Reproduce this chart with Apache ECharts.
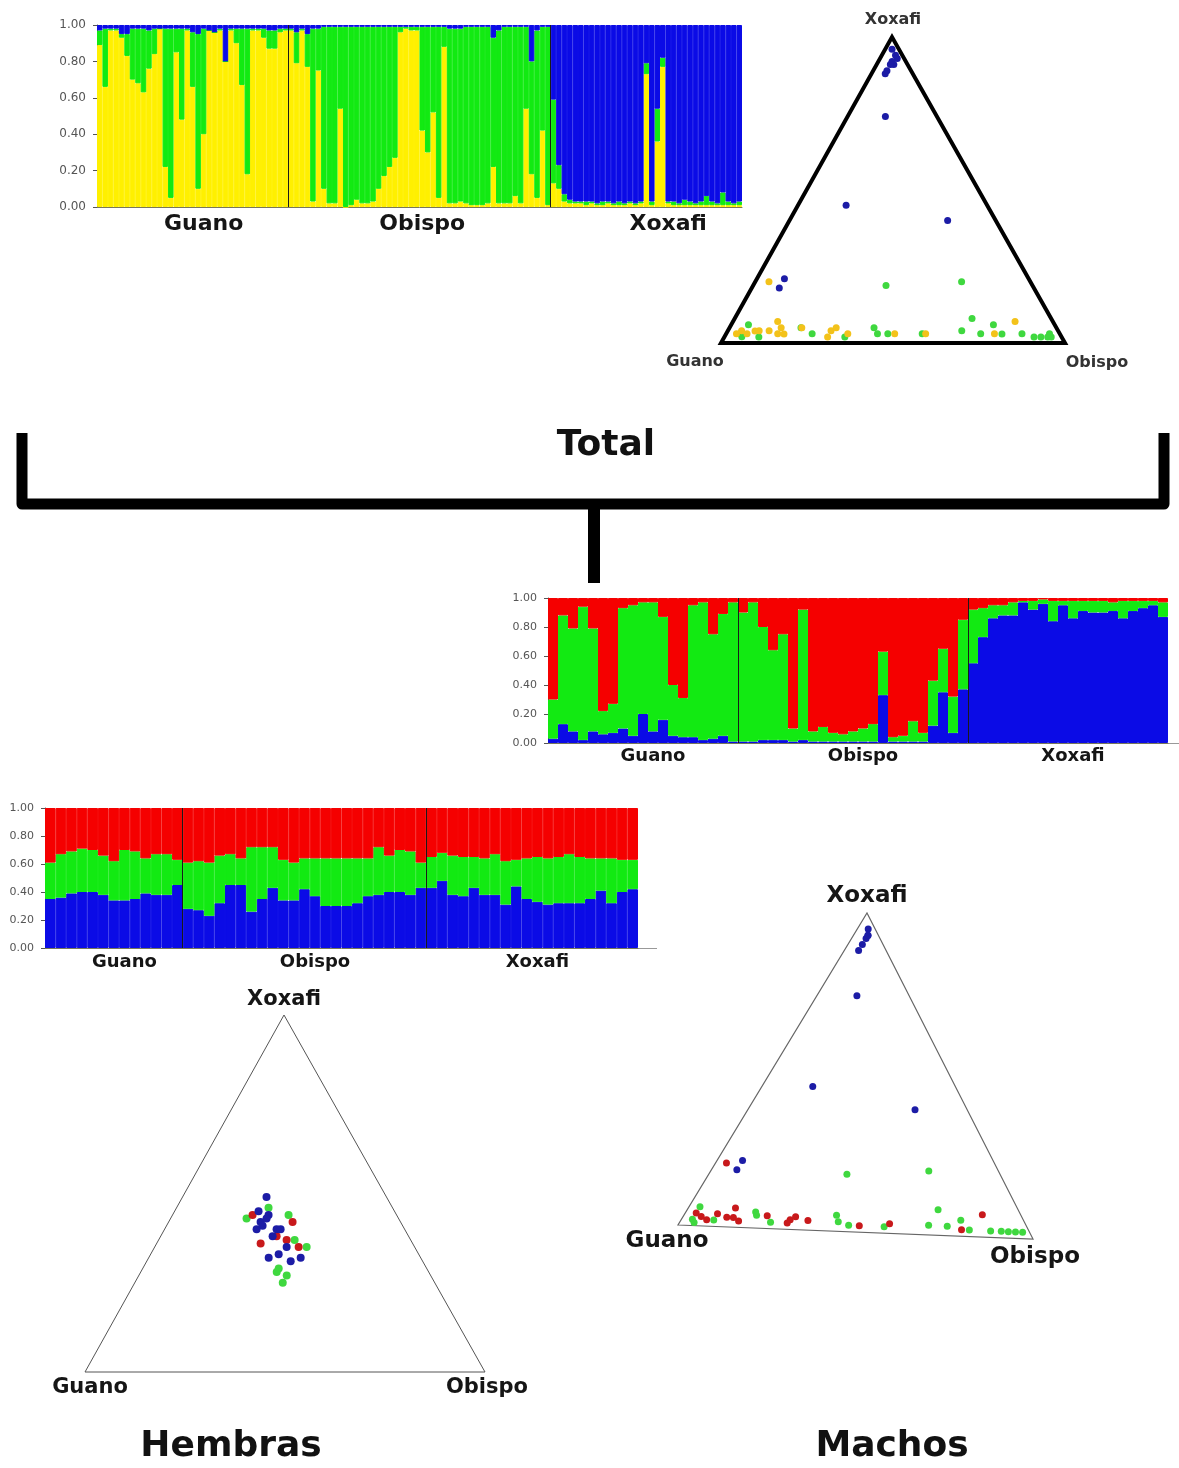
<!DOCTYPE html>
<html>
<head>
<meta charset="utf-8">
<script src="https://cdn.jsdelivr.net/npm/echarts@6/dist/echarts.min.js"></script>
<style>
  html, body { margin: 0; padding: 0; background: #fff; }
  #chart { width: 1179px; height: 1468px; }
</style>
</head>
<body>
<div id="chart"></div>
<script>
// populations, in plot order
const popNames = ['Guano', 'Obispo', 'Xoxafi'];

// ---- Total: Q-values per individual (K=3) ----
const totalCounts = [35, 48, 35];
const totalYellow = [
  .89,.66,.97,.97,.93,.83,.70,.68,.63,.76,.84,.98,.22,.05,.85,.48,.97,.66,.10,.40,.97,.96,.97,.80,.97,.90,.67,.18,.97,.97,.93,.87,.87,.96,.97,
  .97,.79,.97,.77,.03,.75,.10,.02,.02,.54,.00,.01,.04,.02,.02,.03,.10,.17,.22,.27,.96,.98,.97,.97,.42,.30,.52,.05,.88,.02,.02,.03,.02,.01,.01,.01,.02,.22,.02,.02,.02,.06,.02,.54,.18,.05,.42,.01,
  .13,.10,.03,.02,.02,.02,.01,.02,.01,.01,.02,.01,.01,.01,.02,.01,.02,.73,.01,.36,.77,.02,.01,.01,.01,.01,.01,.01,.01,.01,.01,.01,.01,.01,.01
];
const totalGreen = [
  .08,.32,.01,.01,.02,.12,.28,.30,.35,.21,.14,.00,.76,.93,.13,.50,.01,.30,.85,.58,.00,.00,.01,.00,.01,.08,.31,.80,.01,.01,.05,.10,.10,.02,.01,
  .01,.17,.01,.18,.95,.23,.89,.97,.97,.45,.99,.98,.95,.97,.97,.96,.89,.82,.77,.72,.03,.01,.02,.02,.57,.69,.47,.94,.11,.96,.96,.95,.97,.98,.98,.98,.97,.71,.95,.97,.97,.93,.97,.45,.62,.92,.57,.98,
  .46,.13,.04,.02,.01,.01,.02,.01,.01,.02,.01,.01,.02,.01,.01,.01,.01,.06,.02,.18,.05,.01,.02,.01,.03,.02,.01,.02,.05,.02,.01,.07,.02,.01,.02
];
const totalBlue = [
  .03,.02,.02,.02,.05,.05,.02,.02,.02,.03,.02,.02,.02,.02,.02,.02,.02,.04,.05,.02,.03,.04,.02,.20,.02,.02,.02,.02,.02,.02,.02,.03,.03,.02,.02,
  .02,.04,.02,.05,.02,.02,.01,.01,.01,.01,.01,.01,.01,.01,.01,.01,.01,.01,.01,.01,.01,.01,.01,.01,.01,.01,.01,.01,.01,.02,.02,.02,.01,.01,.01,.01,.01,.07,.03,.01,.01,.01,.01,.01,.20,.03,.01,.01,
  .41,.77,.93,.96,.97,.97,.97,.97,.98,.97,.97,.98,.97,.98,.97,.98,.97,.21,.97,.46,.18,.97,.97,.98,.96,.97,.98,.97,.94,.97,.98,.92,.97,.98,.97
];

// ---- Machos ----
const maleCounts = [19, 23, 20];
const maleBlue = [
  .03,.13,.08,.02,.08,.06,.07,.10,.05,.20,.08,.16,.05,.04,.04,.02,.03,.05,.01,
  .01,.01,.02,.02,.02,.01,.02,.01,.01,.01,.01,.01,.01,.01,.33,.01,.01,.01,.01,.12,.35,.07,.37,
  .55,.73,.86,.88,.88,.97,.92,.96,.84,.95,.86,.91,.90,.90,.91,.86,.91,.93,.95,.87
];
const maleGreen = [
  .27,.75,.71,.92,.71,.16,.20,.83,.90,.77,.89,.71,.35,.27,.91,.95,.72,.84,.96,
  .89,.96,.78,.62,.73,.09,.90,.07,.10,.06,.05,.07,.09,.12,.30,.03,.04,.14,.06,.31,.30,.25,.48,
  .37,.20,.09,.07,.09,.01,.06,.03,.14,.03,.12,.07,.08,.08,.06,.12,.07,.05,.03,.10
];
const maleRed = [
  .70,.12,.21,.06,.21,.78,.73,.07,.05,.03,.03,.13,.60,.69,.05,.03,.25,.11,.03,
  .10,.03,.20,.36,.25,.90,.08,.92,.89,.93,.94,.92,.90,.87,.37,.96,.95,.85,.93,.57,.35,.68,.15,
  .08,.07,.05,.05,.03,.02,.02,.01,.02,.02,.02,.02,.02,.02,.03,.02,.02,.02,.02,.03
];

// ---- Hembras ----
const femCounts = [13, 23, 20];
const femBlue = [
  .35,.36,.39,.40,.40,.38,.34,.34,.35,.39,.38,.38,.45,
  .28,.27,.23,.32,.45,.45,.26,.35,.43,.34,.34,.42,.37,.30,.30,.30,.32,.37,.38,.40,.40,.38,.43,
  .43,.48,.38,.37,.43,.38,.38,.31,.44,.35,.33,.31,.32,.32,.32,.35,.41,.32,.40,.42
];
const femGreen = [
  .26,.31,.30,.31,.30,.28,.28,.36,.34,.25,.29,.29,.18,
  .33,.35,.38,.34,.22,.19,.46,.37,.29,.29,.27,.22,.27,.34,.34,.34,.32,.27,.34,.26,.30,.31,.18,
  .22,.20,.28,.28,.22,.26,.29,.31,.19,.29,.32,.33,.33,.35,.33,.29,.23,.32,.23,.21
];
const femRed = [
  .39,.33,.31,.29,.30,.34,.38,.30,.31,.36,.33,.33,.37,
  .39,.38,.39,.34,.33,.36,.28,.28,.28,.37,.39,.36,.36,.36,.36,.36,.36,.36,.28,.34,.30,.31,.39,
  .35,.32,.34,.35,.35,.36,.33,.38,.37,.36,.35,.36,.35,.33,.35,.36,.36,.36,.37,.37
];

// ---- triangle plots: [Guano, Obispo, Xoxafi] proportions ----
const triTotalBlue = [[.02,.02,.96],[.02,.04,.94],[.02,.05,.93],[.04,.04,.92],[.04,.05,.91],[.05,.04,.91],[.07,.04,.89],[.08,.04,.88],[.15,.11,.74],[.41,.14,.45],[.14,.46,.40],[.71,.08,.21],[.74,.08,.18]];
const triTotalGreen = [[.43,.39,.19],[.20,.60,.20],[.93,.04,.03],[.89,.05,.06],[.92,.05,.02],[.88,.10,.02],[.75,.21,.05],[.72,.25,.03],[.63,.35,.02],[.53,.42,.05],[.53,.44,.03],[.50,.47,.03],[.40,.57,.03],[.28,.68,.04],[.23,.69,.08],[.23,.74,.03],[.18,.77,.06],[.17,.81,.03],[.11,.86,.03],[.08,.90,.02],[.06,.92,.02],[.04,.94,.02],[.03,.95,.02],[.03,.94,.03]];
const triTotalYellow = [[.76,.04,.20],[.94,.03,.03],[.92,.04,.04],[.90,.06,.03],[.89,.08,.04],[.86,.09,.04],[.84,.12,.04],[.82,.15,.03],[.80,.15,.05],[.81,.17,.03],[.80,.13,.07],[.74,.21,.05],[.66,.30,.04],[.64,.31,.05],[.68,.30,.02],[.61,.35,.03],[.48,.49,.03],[.39,.58,.03],[.19,.78,.03],[.11,.82,.07]];

const triFemBlue = [[.30,.21,.49],[.34,.21,.45],[.32,.24,.44],[.35,.23,.42],[.37,.23,.40],[.35,.24,.41],[.32,.28,.40],[.34,.28,.38],[.31,.29,.40],[.32,.33,.35],[.38,.30,.32],[.35,.32,.33],[.33,.36,.31],[.30,.38,.32],[.33,.24,.43]];
const triFemRed = [[.36,.20,.44],[.38,.26,.36],[.27,.31,.42],[.31,.32,.37],[.29,.36,.35],[.33,.29,.38]];
const triFemGreen = [[.38,.19,.43],[.31,.23,.46],[.27,.29,.44],[.29,.34,.37],[.27,.38,.35],[.37,.34,.29],[.36,.37,.27],[.38,.37,.25],[.38,.34,.28]];

const triMaleRed = [[.77,.03,.20],[.81,.13,.06],[.93,.03,.04],[.91,.07,.02],[.87,.09,.04],[.84,.12,.03],[.82,.16,.02],[.83,.14,.03],[.73,.23,.04],[.67,.30,.03],[.65,.31,.04],[.62,.35,.03],[.48,.50,.02],[.39,.58,.03],[.11,.82,.07],[.19,.78,.02],[.93,.05,.03],[.69,.30,.02]];
const triMaleBlue = [[.72,.07,.21],[.75,.07,.18],[.02,.03,.95],[.03,.04,.94],[.04,.04,.92],[.06,.04,.91],[.08,.04,.89],[.03,.04,.93],[.15,.11,.74],[.41,.14,.45],[.15,.46,.39]];
const triMaleGreen = [[.44,.38,.18],[.20,.60,.20],[.91,.03,.06],[.95,.03,.02],[.95,.04,.01],[.89,.09,.02],[.75,.19,.05],[.76,.20,.04],[.73,.25,.02],[.53,.42,.05],[.54,.44,.03],[.51,.47,.02],[.41,.57,.02],[.28,.69,.03],[.23,.69,.08],[.23,.75,.03],[.18,.77,.05],[.17,.81,.02],[.11,.87,.02],[.08,.90,.02],[.06,.92,.02],[.04,.94,.02],[.02,.96,.02]];

// colours
const C_YELLOW = '#fff000', C_GREEN = '#12ea12', C_BLUE = '#0b0be6', C_RED = '#f50000';
const P_YELLOW = '#f3c21a', P_GREEN = '#3fd83f', P_BLUE = '#1c1ca6', P_RED = '#c8191b';
const BOLD = 'DejaVu Sans';

const grids = [], xAxes = [], yAxes = [], series = [];

function addStructurePlot(rect, counts, labelAt, fontSize, labelMargin, tickFont, layers) {
  const gi = grids.length;
  grids.push({ left: rect[0], top: rect[1], width: rect[2], height: rect[3] });
  const n = counts.reduce((a, b) => a + b, 0);
  const cats = Array.from({ length: n }, (_, i) => String(i));
  const labelMap = {};
  labelAt.forEach((idx, k) => { labelMap[idx] = popNames[k]; });
  const showAt = (i) => labelMap[i] !== undefined;

  const catAxis = xAxes.length;
  xAxes.push({
    type: 'category', gridIndex: gi, data: cats,
    axisLine: { lineStyle: { color: '#77775a', width: 1 } },
    axisTick: { alignWithLabel: true, interval: showAt, length: 4, lineStyle: { color: '#444' } },
    axisLabel: {
      interval: showAt, formatter: (v, i) => labelMap[i] || '',
      fontFamily: BOLD, fontWeight: 'bold', fontSize: fontSize, color: '#151515', margin: labelMargin
    },
    splitLine: { show: false }
  });
  const valAxis = xAxes.length;
  xAxes.push({ type: 'value', gridIndex: gi, min: 0, max: n, show: false });

  const yi = yAxes.length;
  yAxes.push({
    type: 'value', gridIndex: gi, min: 0, max: 1, interval: 0.2,
    axisLine: { show: true, lineStyle: { color: '#555' } },
    axisTick: { show: true, length: 4, lineStyle: { color: '#555' } },
    axisLabel: { formatter: (v) => v.toFixed(2), fontSize: tickFont, color: '#555', fontFamily: 'DejaVu Sans', margin: 11 },
    splitLine: { show: false }
  });

  layers.forEach((l) => {
    series.push({
      type: 'bar', xAxisIndex: catAxis, yAxisIndex: yi, stack: 'q' + gi,
      data: l.data, barCategoryGap: '0%', barGap: '0%', silent: true,
      itemStyle: { color: l.color, borderColor: l.color, borderWidth: 1 }
    });
  });

  // group separators
  const bounds = [];
  let c = 0;
  counts.slice(0, -1).forEach((k) => { c += k; bounds.push({ xAxis: c }); });
  series.push({
    type: 'line', xAxisIndex: valAxis, yAxisIndex: yi, data: [], silent: true, z: 5,
    markLine: { symbol: 'none', silent: true, label: { show: false }, animation: false,
      lineStyle: { color: '#1a1a1a', width: 1, type: 'solid' }, data: bounds }
  });
}

addStructurePlot([97, 25, 645, 182], totalCounts, [19, 59, 104], 22, 6, 12, [
  { data: totalYellow, color: C_YELLOW },
  { data: totalGreen, color: C_GREEN },
  { data: totalBlue, color: C_BLUE }
]);
addStructurePlot([548, 598, 620, 145], maleCounts, [10, 31, 52], 18, 4, 11, [
  { data: maleBlue, color: C_BLUE },
  { data: maleGreen, color: C_GREEN },
  { data: maleRed, color: C_RED }
]);
addStructurePlot([45, 808, 593, 140], femCounts, [7, 25, 46], 18, 5, 11, [
  { data: femBlue, color: C_BLUE },
  { data: femGreen, color: C_GREEN },
  { data: femRed, color: C_RED }
]);

// overlay grid in page pixels for the triangle plots
const ov = grids.length;
grids.push({ left: 0, top: 0, width: 1179, height: 1468 });
const ovX = xAxes.length;
xAxes.push({ type: 'value', gridIndex: ov, min: 0, max: 1179, show: false });
const ovY = yAxes.length;
yAxes.push({ type: 'value', gridIndex: ov, min: 0, max: 1468, inverse: true, show: false });

// triangle corners (layout)
const triTotal = { G: [721, 343], O: [1065, 343], X: [892, 37] };
const triFem = { G: [85, 1372], O: [485, 1372], X: [284, 1015] };
const triMale = { G: [678, 1225], O: [1033, 1239], X: [867, 913] };

function project(tri, p) {
  const s = p[0] + p[1] + p[2];
  const g = p[0] / s, o = p[1] / s, x = p[2] / s;
  return [tri.G[0] * g + tri.O[0] * o + tri.X[0] * x, tri.G[1] * g + tri.O[1] * o + tri.X[1] * x];
}
function addTernary(tri, pts, color, size) {
  series.push({
    type: 'scatter', xAxisIndex: ovX, yAxisIndex: ovY, silent: true,
    symbolSize: size, itemStyle: { color: color, opacity: 1 },
    data: pts.map((p) => project(tri, p))
  });
}
addTernary(triTotal, triTotalBlue, P_BLUE, 7);
addTernary(triTotal, triTotalGreen, P_GREEN, 7);
addTernary(triTotal, triTotalYellow, P_YELLOW, 7);
addTernary(triFem, triFemGreen, P_GREEN, 8);
addTernary(triFem, triFemRed, P_RED, 8);
addTernary(triFem, triFemBlue, P_BLUE, 8);
addTernary(triMale, triMaleGreen, P_GREEN, 7);
addTernary(triMale, triMaleRed, P_RED, 7);
addTernary(triMale, triMaleBlue, P_BLUE, 7);

function triFrame(tri, color, width) {
  return { type: 'polygon', silent: true, z: 1,
    shape: { points: [tri.G, tri.O, tri.X] },
    style: { fill: null, stroke: color, lineWidth: width, lineJoin: 'miter' } };
}
function txt(text, x, y, size, weight, color) {
  return { type: 'text', x: x, y: y, silent: true, z: 10,
    style: { text: text, fontFamily: BOLD, fontSize: size, fontWeight: weight, fill: color,
      align: 'center', verticalAlign: 'middle' } };
}
function seg(points, width, color) {
  return { type: 'polyline', silent: true, shape: { points: points },
    style: { stroke: color || '#000', lineWidth: width, fill: null, lineCap: 'butt', lineJoin: 'round' } };
}

const graphics = [
  triFrame(triTotal, '#000', 4),
  triFrame(triFem, '#555', 1),
  triFrame(triMale, '#666', 1.2),
  txt('Xoxafi', 893, 20, 16, 'bold', '#333'),
  txt('Guano', 695, 362, 16, 'bold', '#333'),
  txt('Obispo', 1097, 363, 16, 'bold', '#333'),
  // bracket joining the Total analysis to the two sexes
  seg([[22, 433], [22, 504], [1164, 504], [1164, 433]], 11),
  seg([[594, 504], [594, 583]], 12),
  // axis lines running past the plot edge
  seg([[1168, 743.5], [1179, 743.5]], 1, '#999'),
  seg([[638, 948.5], [657, 948.5]], 1, '#999'),
  txt('Total', 606, 446, 36, 'bold', '#111'),
  txt('Xoxafi', 284, 1000, 21, 'bold', '#151515'),
  txt('Guano', 90, 1388, 21, 'bold', '#151515'),
  txt('Obispo', 487, 1388, 21, 'bold', '#151515'),
  txt('Xoxafi', 867, 896, 23, 'bold', '#151515'),
  txt('Guano', 667, 1241, 23, 'bold', '#151515'),
  txt('Obispo', 1035, 1257, 23, 'bold', '#151515'),
  txt('Hembras', 231, 1447, 36, 'bold', '#111'),
  txt('Machos', 892, 1447, 36, 'bold', '#111')
];

const chart = echarts.init(document.getElementById('chart'), null, { renderer: 'canvas' });
chart.setOption({
  animation: false,
  backgroundColor: '#fff',
  textStyle: { fontFamily: BOLD },
  grid: grids,
  xAxis: xAxes,
  yAxis: yAxes,
  series: series,
  graphic: graphics
});
</script>
</body>
</html>
